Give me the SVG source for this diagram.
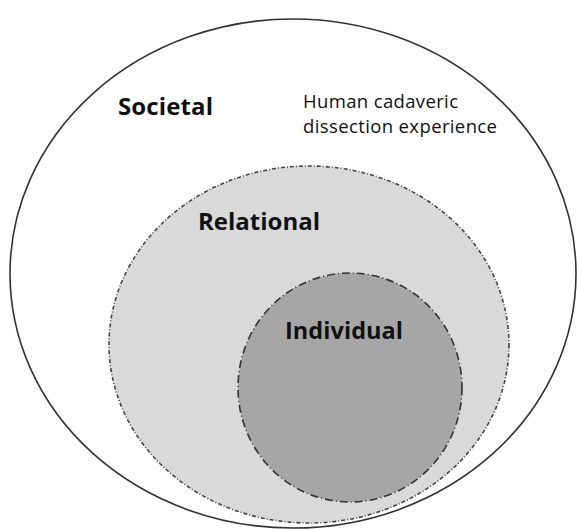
<svg xmlns="http://www.w3.org/2000/svg" width="577" height="529" viewBox="0 0 577 529">
<style>
.lbl{font-family:"Open Sans","Liberation Sans",sans-serif;font-weight:bold;fill:#111;}
.txt{font-family:"Open Sans","Liberation Sans",sans-serif;fill:#111;}
</style>
<rect width="577" height="529" fill="#fff"/>
<g id="societal">
<ellipse cx="293" cy="273.5" rx="283" ry="254.5" fill="#fff" stroke="#333" stroke-width="1.6"/>
<text class="lbl" x="118" y="115" font-size="24" textLength="95">Societal</text>
<text class="txt" x="303" y="108" font-size="18.5" textLength="155">Human cadaveric</text>
<text class="txt" x="303" y="133" font-size="18.5" textLength="194">dissection experience</text>
</g>
<g id="relational">
<ellipse cx="309" cy="344.5" rx="200" ry="178.5" fill="#d9d9d9" stroke="#444" stroke-width="1.6" stroke-dasharray="4 2 1 2"/>
<text class="lbl" x="198" y="230" font-size="24" textLength="122">Relational</text>
</g>
<g id="individual">
<ellipse cx="350" cy="387.5" rx="112" ry="114.5" fill="#a6a6a6" stroke="#333" stroke-width="1.6" stroke-dasharray="8 3 1 3"/>
<text class="lbl" x="285" y="339" font-size="23.5" textLength="118">Individual</text>
</g>
<g id="connectors"></g>
</svg>
